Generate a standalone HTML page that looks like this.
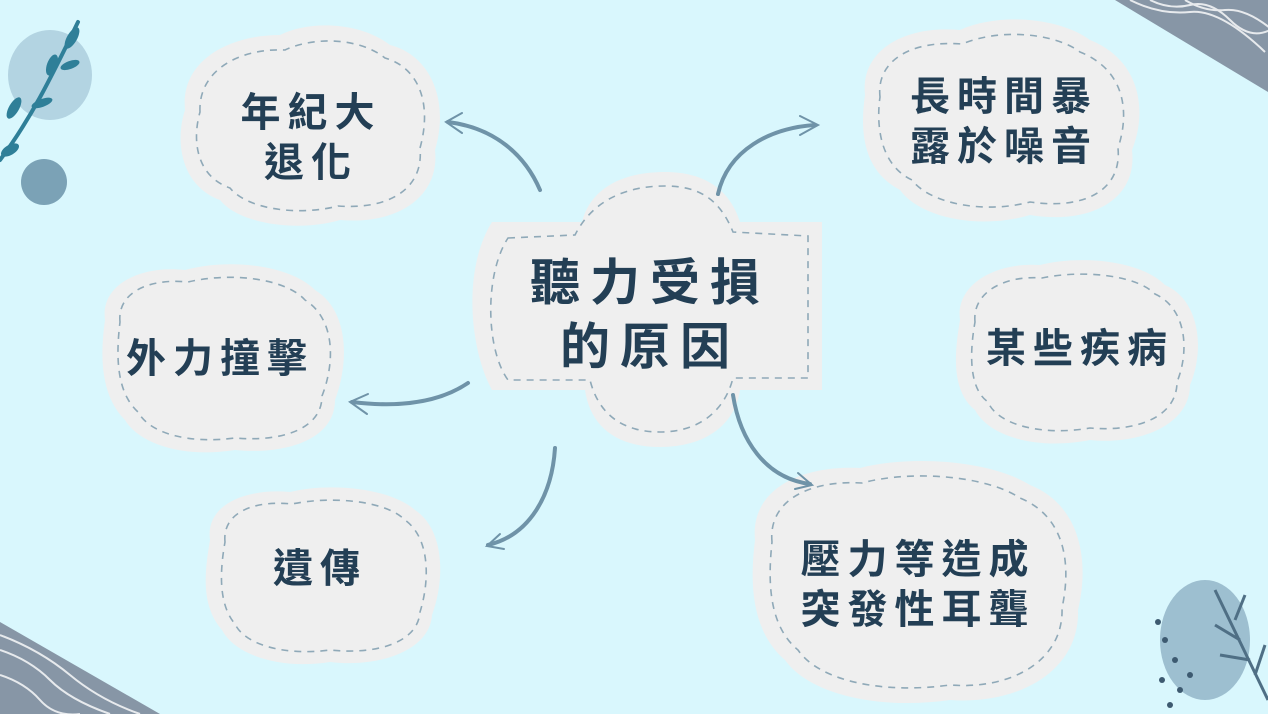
<!DOCTYPE html>
<html><head><meta charset="utf-8"><style>
html,body{margin:0;padding:0;background:#d9f7fd;}
svg{display:block}
text{font-family:"Liberation Sans","Noto Sans CJK TC",sans-serif;font-weight:bold;fill:#233f55;text-anchor:middle;}
</style></head><body>
<svg width="1268" height="714" viewBox="0 0 1268 714" xmlns="http://www.w3.org/2000/svg">
<rect width="1268" height="714" fill="#d9f7fd"/>
<polygon points="1115,0 1268,0 1268,92" fill="#8796a6"/>
<g stroke="#fff" stroke-width="2" fill="none" opacity="0.8">
<path d="M1150,0 q20,10 40,5 t40,15 t40,10"/><path d="M1185,0 q20,12 40,10 t45,18"/><path d="M1130,0 q30,15 60,12 t75,40"/>
</g>
<polygon points="0,622 0,714 160,714" fill="#8796a6"/>
<g stroke="#fff" stroke-width="2" fill="none" opacity="0.8">
<path d="M0,650 q30,10 50,30 t60,34"/><path d="M0,675 q25,8 40,25 t40,14"/><path d="M0,635 q40,15 70,40 t70,39"/>
</g>
<ellipse cx="50" cy="75" rx="42" ry="45" fill="#b3d4e2"/>
<circle cx="44" cy="182" r="23" fill="#7ba2b6"/>
<g stroke="#2f7f98" stroke-width="4" fill="none" stroke-linecap="round">
<path d="M0,160 C30,120 50,80 78,22"/>
</g>
<g fill="#2f7f98">
<ellipse cx="72" cy="38" rx="5" ry="12" transform="rotate(30 72 38)"/>
<ellipse cx="52" cy="65" rx="5" ry="11" transform="rotate(20 52 65)"/>
<ellipse cx="70" cy="65" rx="4" ry="10" transform="rotate(70 70 65)"/>
<ellipse cx="14" cy="108" rx="5" ry="12" transform="rotate(30 14 108)"/>
<ellipse cx="42" cy="103" rx="4" ry="11" transform="rotate(70 42 103)"/>
<ellipse cx="10" cy="150" rx="5" ry="10" transform="rotate(60 10 150)"/>
</g>
<ellipse cx="1205" cy="640" rx="45" ry="60" fill="#9dbfd0"/>
<g stroke="#4f6f85" stroke-width="3" fill="none">
<path d="M1268,700 L1215,590"/><path d="M1240,640 l-25,-15"/><path d="M1250,660 l-30,-5"/><path d="M1235,620 l10,-25"/><path d="M1255,675 l10,-30"/>
</g>
<g fill="#3d5a70"><circle cx="1165" cy="640" r="3"/><circle cx="1175" cy="660" r="3"/><circle cx="1162" cy="680" r="3"/><circle cx="1180" cy="690" r="3"/><circle cx="1170" cy="705" r="3"/><circle cx="1190" cy="675" r="3"/><circle cx="1158" cy="622" r="3"/></g>
<g fill="#efefef">
<path d="M185,110 C180,60 230,35 280,35 C310,20 360,22 390,45 C430,55 450,100 435,150 C440,195 400,225 340,220 C300,232 240,225 220,200 C180,185 175,140 185,110Z"/>
<path d="M865,95 C860,50 905,25 960,30 C1000,12 1060,18 1090,40 C1140,60 1148,110 1132,150 C1138,200 1090,225 1030,215 C980,230 920,218 900,190 C862,170 860,130 865,95Z"/>
<path d="M960,320 C955,285 995,262 1040,265 C1080,255 1140,260 1165,285 C1200,300 1205,350 1190,385 C1190,425 1140,445 1090,440 C1040,450 990,438 975,410 C950,390 955,350 960,320Z"/>
<path d="M755,540 C750,490 800,465 860,468 C910,455 990,460 1030,485 C1080,505 1090,560 1078,610 C1080,670 1020,705 950,700 C880,710 810,695 785,660 C750,630 750,580 755,540Z"/>
<path d="M210,540 C205,505 245,488 290,492 C330,482 390,488 415,510 C445,530 445,580 432,615 C430,650 380,668 330,662 C280,670 235,655 222,630 C200,605 205,570 210,540Z"/>
<path d="M105,320 C100,285 140,265 185,270 C230,258 290,265 315,290 C348,310 350,360 335,400 C335,440 285,455 235,450 C185,458 140,445 125,420 C100,395 100,355 105,320Z"/>
<path d="M492,222 L582,222 C590,190 620,172 665,172 C705,172 730,190 740,222 L822,222 L822,390 L740,390 C735,425 705,447 660,447 C615,447 590,425 585,390 L492,390 C470,350 462,270 492,222Z"/>
</g>
<g fill="none" stroke="#8fa9b8" stroke-width="1.6" stroke-dasharray="7,6">
<path d="M200,112 C198,70 240,48 285,50 C315,36 360,38 385,58 C420,68 432,105 420,148 C424,188 390,210 338,206 C300,216 248,210 230,188 C196,176 192,140 200,112Z"/>
<path d="M880,97 C876,60 912,40 962,44 C1000,28 1055,33 1080,52 C1125,70 1130,112 1118,148 C1122,190 1085,210 1030,202 C985,214 930,204 912,180 C880,165 876,125 880,97Z"/>
<path d="M975,322 C972,292 1005,275 1042,278 C1080,270 1135,274 1155,294 C1186,308 1190,350 1177,382 C1177,418 1135,432 1090,428 C1045,436 998,426 988,402 C968,388 970,350 975,322Z"/>
<path d="M772,542 C768,500 810,480 862,483 C910,470 985,475 1020,498 C1064,516 1072,562 1062,608 C1064,660 1012,690 950,685 C885,694 820,682 798,650 C768,625 768,580 772,542Z"/>
<path d="M225,542 C222,512 255,500 292,504 C330,496 385,500 405,520 C430,538 430,580 420,612 C418,642 378,655 330,650 C285,656 245,645 235,624 C218,604 220,570 225,542Z"/>
<path d="M120,322 C117,292 150,278 188,282 C230,272 285,278 305,300 C334,318 336,360 322,396 C322,430 280,442 235,438 C190,444 150,434 138,412 C116,392 116,355 120,322Z"/>
<path d="M508,238 L575,235 C590,205 620,186 665,186 C700,186 720,200 733,232 L808,236 L808,378 L733,378 C725,410 700,432 660,432 C620,432 598,412 590,380 L508,380 C486,350 484,275 508,238Z"/>
</g>
<g fill="none" stroke="#6f93a8" stroke-width="4" stroke-linecap="round">
<path d="M540,190 C525,155 495,128 448,122"/>
<path d="M718,194 C728,150 770,128 815,125"/>
<path d="M468,383 C440,402 400,408 352,402"/>
<path d="M555,448 C552,495 530,535 488,545"/>
<path d="M733,395 C740,440 765,478 810,484"/>
</g>
<g fill="none" stroke="#6f93a8" stroke-width="2" stroke-linecap="round">
<path d="M462,113 L446,122 L462,133"/>
<path d="M800,116 L818,125 L800,135"/>
<path d="M368,394 L350,402 L367,414"/>
<path d="M500,534 L487,546 L504,549"/>
<path d="M798,473 L812,485 L795,489"/>
</g>
<g font-size="40" letter-spacing="7">
<text x="311" y="126">年紀大</text><text x="311" y="176">退化</text>
<text x="1004" y="110">長時間暴</text><text x="1004" y="160">露於噪音</text>
<text x="1080" y="362">某些疾病</text>
<text x="918" y="573">壓力等造成</text><text x="918" y="623">突發性耳聾</text>
<text x="320" y="582">遺傳</text>
<text x="220" y="372">外力撞擊</text>
</g>
<g font-size="50" letter-spacing="10">
<text x="650" y="300">聽力受損</text><text x="650" y="364">的原因</text>
</g>
</svg>
</body></html>
